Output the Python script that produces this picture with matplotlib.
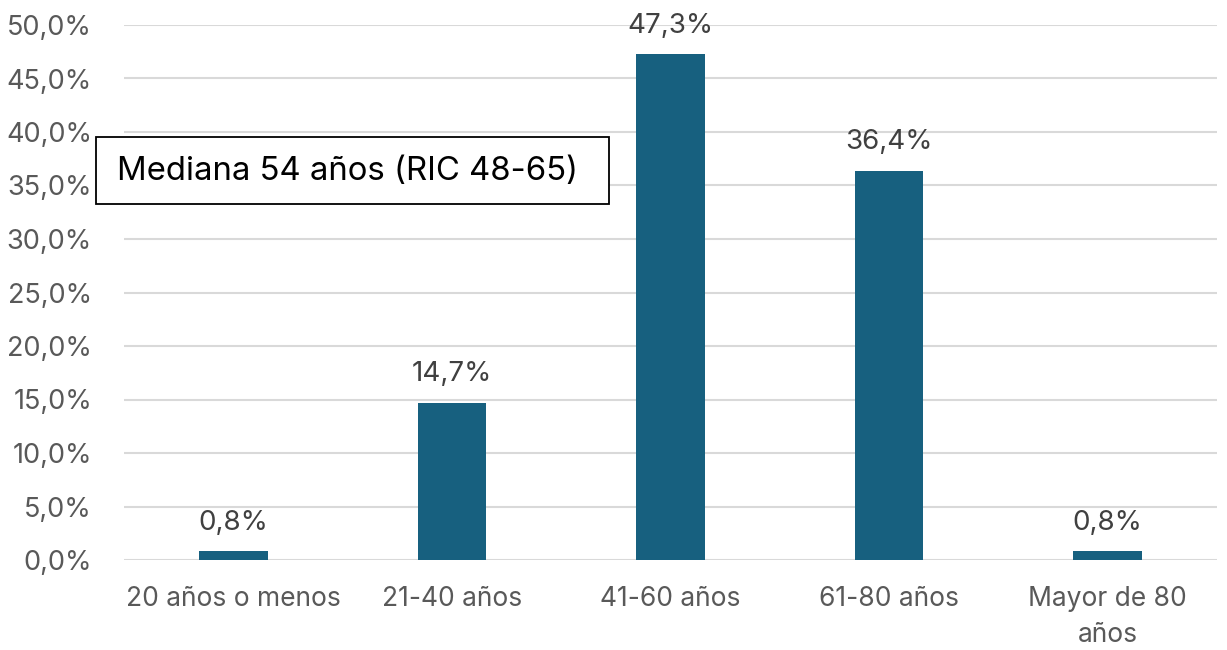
import matplotlib
matplotlib.use("Agg")
import matplotlib.pyplot as plt
from matplotlib.patches import Rectangle

categories = ["20 años o menos", "21-40 años", "41-60 años", "61-80 años", "Mayor de 80\naños"]
values = [0.8, 14.7, 47.3, 36.4, 0.8]
yticks = [0, 5, 10, 15, 20, 25, 30, 35, 40, 45, 50]
annotation = "Mediana 54 años (RIC 48-65)"

plt.rcParams['font.family'] = ['Inter', 'DejaVu Sans']

fig = plt.figure(figsize=(12.27, 6.5), dpi=100)
ax = fig.add_axes([124/1227, 1-560/650, (1217-124)/1227, (560-25)/650])

x = list(range(len(categories)))
ax.bar(x, values, width=0.314, color='#17607f', zorder=3)
ax.set_xlim(-0.5, len(categories)-0.5)
ax.set_ylim(0, 50)
ax.set_yticks(yticks)
ax.set_yticklabels([f"{v:.1f}%".replace('.', ',') for v in yticks], fontsize=19.5, color='#595959')
ax.set_xticks(x)
ax.set_xticklabels(categories, fontsize=19, color='#595959', linespacing=1.5, va='top')
ax.tick_params(axis='both', length=0)
ax.tick_params(axis='y', pad=23)
ax.tick_params(axis='x', pad=19)
ax.grid(axis='y', color='#d9d9d9', linewidth=1.5, zorder=0)
for s in ax.spines.values():
    s.set_visible(False)

for xi, v in zip(x, values):
    ax.annotate(f"{v:.1f}%".replace('.', ','), (xi, v), xytext=(0, 11), textcoords='offset points',
                ha='center', va='bottom', fontsize=20, color='#404040')

fig.patches.append(Rectangle((96/1227, 1-204/650), (609-96)/1227, (204-137)/650,
                             transform=fig.transFigure, facecolor='white', edgecolor='black',
                             linewidth=1.3, zorder=5))
fig.text(117/1227, 1-171/650, annotation, fontsize=23.7, color='black', ha='left', va='center', zorder=6)

fig.savefig("out.png", dpi=100)
